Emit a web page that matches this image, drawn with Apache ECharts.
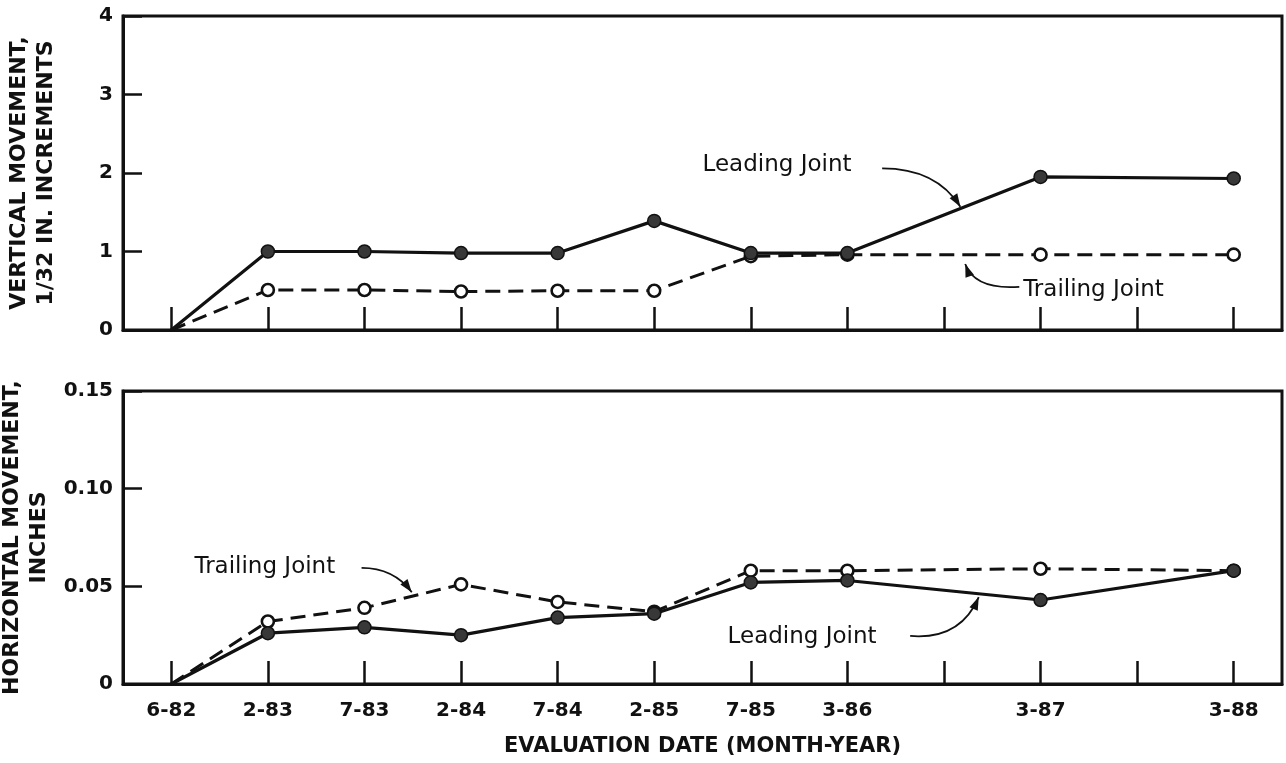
<!DOCTYPE html>
<html><head><meta charset="utf-8">
<script src="https://cdn.jsdelivr.net/npm/echarts@6/dist/echarts.min.js"></script>
<style>html,body{margin:0;padding:0;background:#fff}#c{width:1286px;height:763px}</style>
</head><body><div id="c"></div>
<script>
// ---- data ----
const categories = ['6-82','2-83','7-83','2-84','7-84','2-85','7-85','3-86','','3-87','','3-88'];
const tickIndex = [0,1,2,3,4,5,6,7,8,9,10,11];
const verticalLeading  = [0, 1.00, 1.00, 0.98, 0.98, 1.39, 0.98, 0.98, null, 1.95, null, 1.93];
const verticalTrailing = [0, 0.51, 0.51, 0.49, 0.50, 0.50, 0.94, 0.96, null, 0.96, null, 0.96];
const horizontalLeading  = [0, 0.026, 0.029, 0.025, 0.034, 0.036, 0.052, 0.053, null, 0.043, null, 0.058];
const horizontalTrailing = [0, 0.032, 0.039, 0.051, 0.042, 0.037, 0.058, 0.058, null, 0.059, null, 0.058];
const verticalTicks = [0, 1, 2, 3, 4];
const horizontalTicks = [0, 0.05, 0.10, 0.15];

// annotation anchors in data coordinates [x index, value]
const annotations = [
  {grid:0, text:'Leading Joint',  textAt:[5.50, 2.10], from:[7.36, 2.06], ctrl:[7.92, 2.06], to:[8.17, 1.57]},
  {grid:0, text:'Trailing Joint', textAt:[8.82, 0.51], from:[8.78, 0.55], ctrl:[8.32, 0.51], to:[8.22, 0.84]},
  {grid:1, text:'Trailing Joint', textAt:[0.24, 0.060], from:[1.97, 0.0594], ctrl:[2.30, 0.0594], to:[2.49, 0.047]},
  {grid:1, text:'Leading Joint',  textAt:[5.76, 0.024], from:[7.65, 0.0246], ctrl:[8.17, 0.0225], to:[8.36, 0.0445]}
];

const INK = '#111';
const toPairs = arr => arr.map((v,i)=> v==null ? null : (i===0 ? {value:[i,v], symbol:'none'} : [i,v])).filter(Boolean);

const labelFont = {fontFamily:'DejaVu Sans', fontWeight:'bold', fontSize:20, color:INK};

function xAxis(gridIndex, showLabels){
  return {
    gridIndex, type:'value', min:-0.5, max:11.5,
    axisLine:{show:true, onZero:false, lineStyle:{color:INK, width:3}},
    axisTick:{show:true, inside:true, length:23, customValues:tickIndex, lineStyle:{color:INK, width:2.5}},
    axisLabel:{show:showLabels, customValues:tickIndex, margin:17, formatter:v=>categories[Math.round(v)] || '', ...labelFont},
    splitLine:{show:false},
    name: showLabels ? 'EVALUATION DATE (MONTH-YEAR)' : '',
    nameLocation:'middle', nameGap:52,
    nameTextStyle:{fontFamily:'DejaVu Sans', fontWeight:'bold', fontSize:21, color:INK}
  };
}
function yAxis(gridIndex, ticks, name, fmt){
  return {
    gridIndex, type:'value', min:ticks[0], max:ticks[ticks.length-1], interval:ticks[1]-ticks[0],
    axisLine:{show:true, onZero:false, lineStyle:{color:INK, width:3}},
    axisTick:{show:true, inside:true, length:19, lineStyle:{color:INK, width:2.5}},
    axisLabel:{margin:10, formatter:fmt, ...labelFont},
    splitLine:{show:false},
    name, nameLocation:'middle', nameRotate:90, nameGap:63,
    nameTextStyle:{fontFamily:'DejaVu Sans', fontWeight:'bold', fontSize:22, lineHeight:27, color:INK}
  };
}
function leading(xi, data){
  return {type:'line', xAxisIndex:xi, yAxisIndex:xi, data:toPairs(data), z:3,
    symbol:'circle', symbolSize:13,
    lineStyle:{color:INK, width:3.2, type:'solid'},
    itemStyle:{color:'#383838', borderColor:INK, borderWidth:1.5}};
}
function trailing(xi, data){
  return {type:'line', xAxisIndex:xi, yAxisIndex:xi, data:toPairs(data), z:2,
    symbol:'circle', symbolSize:12,
    lineStyle:{color:INK, width:3, type:[15,8]},
    itemStyle:{color:'#fff', borderColor:INK, borderWidth:2.6}};
}

const chart = echarts.init(document.getElementById('c'), null, {renderer:'canvas'});
chart.setOption({
  animation:false,
  backgroundColor:'#fff',
  grid:[
    {left:123, right:4, top:16, height:314, show:true, borderColor:INK, borderWidth:3, backgroundColor:'transparent', containLabel:false, outerBoundsMode:'none'},
    {left:123, right:4, top:391, height:293, show:true, borderColor:INK, borderWidth:3, backgroundColor:'transparent', containLabel:false, outerBoundsMode:'none'}
  ],
  xAxis:[xAxis(0,false), xAxis(1,true)],
  yAxis:[
    yAxis(0, verticalTicks, 'VERTICAL MOVEMENT,\n1/32 IN. INCREMENTS', v=>String(v)),
    yAxis(1, horizontalTicks, 'HORIZONTAL MOVEMENT,\nINCHES', v=> v===0 ? '0' : v.toFixed(2))
  ],
  series:[
    trailing(0, verticalTrailing), leading(0, verticalLeading),
    trailing(1, horizontalTrailing), leading(1, horizontalLeading)
  ]
});

// annotations: text + curved arrows, positioned through the chart's own coordinate conversion
const graphics = [];
annotations.forEach(a=>{
  const P = c => chart.convertToPixel({gridIndex:a.grid}, c);
  const t = P(a.textAt), f = P(a.from), c = P(a.ctrl), e = P(a.to);
  graphics.push({type:'text', z:10, style:{text:a.text, x:t[0], y:t[1], verticalAlign:'middle', align:'left',
    font:'23px "DejaVu Sans"', fill:INK}});
  graphics.push({type:'bezierCurve', z:10, shape:{x1:f[0], y1:f[1], cpx1:c[0], cpy1:c[1], x2:e[0], y2:e[1]},
    style:{stroke:INK, lineWidth:1.8, fill:null}});
  const dx = e[0]-c[0], dy = e[1]-c[1], L = Math.hypot(dx,dy) || 1;
  const ux = dx/L, uy = dy/L, len = 13, hw = 4.5;
  const bx = e[0]-ux*len, by = e[1]-uy*len;
  graphics.push({type:'polygon', z:10, shape:{points:[[e[0],e[1]],[bx-uy*hw, by+ux*hw],[bx+uy*hw, by-ux*hw]]},
    style:{fill:INK}});
});
chart.setOption({graphic:graphics});
</script>
</body></html>
